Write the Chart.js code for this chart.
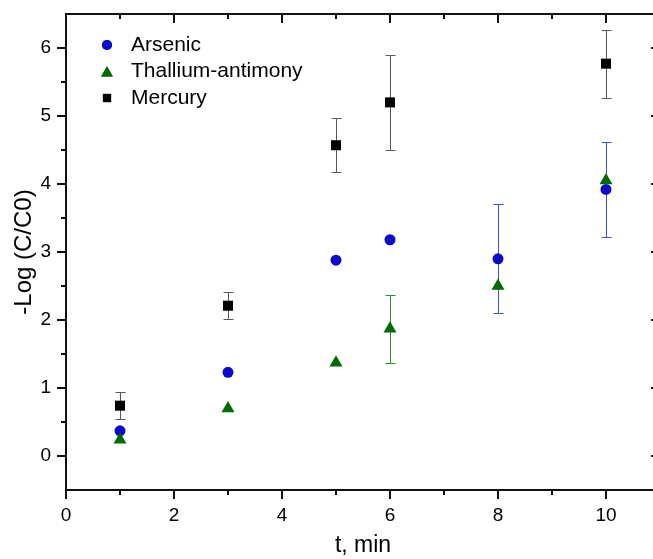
<!DOCTYPE html>
<html>
<head>
<meta charset="utf-8">
<script src="https://cdn.jsdelivr.net/npm/chart.js@4"></script>
<style>
  html, body { margin: 0; padding: 0; background: #fff; overflow: hidden; }
  #wrap { width: 672px; height: 559px; }
</style>
</head>
<body>
<div id="wrap"><canvas id="c" width="672" height="559"></canvas></div>
<script>
// Removal of contaminants over time, -Log(C/C0)
const times = [1, 3, 5, 6, 8, 10];
const arsenic = [0.37, 1.23, 2.88, 3.18, 2.90, 3.92];
const arsenicErr = [0, 0, 0, 0, 0.8, 0.7];
const thallium = [0.24, 0.70, 1.37, 1.87, 2.50, 4.05];
const thalliumErr = [0, 0, 0, 0.5, 0, 0];
const mercuryTimes = [1, 3, 5, 6, 10];
const mercury = [0.74, 2.21, 4.57, 5.20, 5.77];
const mercuryErr = [0.2, 0.2, 0.4, 0.7, 0.5];

const xTicks = [0, 2, 4, 6, 8, 10];
const xMinor = [1, 3, 5, 7, 9];
const yTicks = [0, 1, 2, 3, 4, 5, 6];
const yMinor = [0.5, 1.5, 2.5, 3.5, 4.5, 5.5];

const FONT = '"Liberation Sans", Arial, sans-serif';
const BLUE = '#0b0bcc';
const GREEN = '#006b00';
const BLACK = '#000000';

function pts(xs, ys) { return xs.map((x, i) => ({ x: x, y: ys[i] })); }

const series = [
  { label: 'Arsenic', xs: times, ys: arsenic, err: arsenicErr, color: BLUE, errColor: '#3c4ee6', style: 'circle', radius: 5.5, legendRadius: 5, order: 1 },
  { label: 'Thallium-antimony', xs: times, ys: thallium, err: thalliumErr, color: GREEN, errColor: '#2a8f2a', style: 'triangle', radius: 7.5, legendRadius: 6.8, order: 0 },
  { label: 'Mercury', xs: mercuryTimes, ys: mercury, err: mercuryErr, color: BLACK, errColor: '#5a5a5a', style: 'rect', radius: 7.1, legendRadius: 5.8, order: 2 }
];

// vertical error bars under the markers
const errorBars = {
  id: 'errorBars',
  beforeDatasetsDraw(chart) {
    const ctx = chart.ctx, xs = chart.scales.x, ys = chart.scales.y;
    ctx.save();
    ctx.lineWidth = 1;
    series.forEach(s => {
      ctx.strokeStyle = s.errColor;
      s.xs.forEach((t, i) => {
        const e = s.err[i];
        if (!e) return;
        const px = Math.round(xs.getPixelForValue(t)) + 0.5;
        const top = Math.round(ys.getPixelForValue(s.ys[i] + e)) + 0.5;
        const bot = Math.round(ys.getPixelForValue(s.ys[i] - e)) + 0.5;
        ctx.beginPath();
        ctx.moveTo(px, top); ctx.lineTo(px, bot);
        ctx.moveTo(px - 5, top); ctx.lineTo(px + 5, top);
        ctx.moveTo(px - 5, bot); ctx.lineTo(px + 5, bot);
        ctx.stroke();
      });
    });
    ctx.restore();
  }
};

// closed frame with outward ticks on left/bottom and inward ticks on top/right
const frame = {
  id: 'frame',
  afterDraw(chart) {
    const ctx = chart.ctx, a = chart.chartArea, xs = chart.scales.x, ys = chart.scales.y;
    ctx.save();
    ctx.strokeStyle = '#111';
    ctx.lineWidth = 2;
    ctx.strokeRect(a.left, a.top, a.right - a.left, a.bottom - a.top);
    ctx.beginPath();
    const tick = (vals, len) => {
      vals.forEach(v => {
        const px = xs.getPixelForValue(v);
        ctx.moveTo(px, a.bottom); ctx.lineTo(px, a.bottom + len);
        ctx.moveTo(px, a.top); ctx.lineTo(px, a.top + len);
      });
    };
    const ytick = (vals, len) => {
      vals.forEach(v => {
        const py = ys.getPixelForValue(v);
        ctx.moveTo(a.left, py); ctx.lineTo(a.left - len, py);
        ctx.moveTo(a.right, py); ctx.lineTo(a.right - len, py);
      });
    };
    tick(xTicks, 9); tick(xMinor, 5);
    ytick(yTicks, 9); ytick(yMinor, 5);
    ctx.stroke();
    ctx.restore();
  }
};

// legend inside the plot area, top left
const insideLegend = {
  id: 'insideLegend',
  afterDraw(chart) {
    const ctx = chart.ctx, a = chart.chartArea;
    ctx.save();
    ctx.font = '21px ' + FONT;
    ctx.textBaseline = 'middle';
    series.forEach((s, i) => {
      const y = a.top + 31 + i * 26.5;
      const x = a.left + 41;
      ctx.fillStyle = s.color;
      ctx.strokeStyle = s.color;
      Chart.helpers.drawPoint(ctx, { pointStyle: s.style, radius: s.legendRadius, borderWidth: 0, rotation: 0 }, x, s.style === 'triangle' ? y + 1.5 : y);
      ctx.fill();
      ctx.fillStyle = '#000';
      ctx.fillText(s.label, a.left + 65, y);
    });
    ctx.restore();
  }
};

// keep the plot box at fixed margins: no extra room for edge labels
function noEdgePadding(s) {
  s.paddingTop = 0; s.paddingBottom = 0;
  s.paddingLeft = 0; s.paddingRight = 0;
}

new Chart(document.getElementById('c'), {
  type: 'scatter',
  data: {
    datasets: series.map(s => ({
      label: s.label,
      data: pts(s.xs, s.ys),
      pointStyle: s.style,
      pointRadius: s.radius,
      pointHoverRadius: s.radius,
      backgroundColor: s.color,
      borderColor: s.color,
      borderWidth: 0,
      order: s.order
    }))
  },
  options: {
    responsive: false,
    animation: false,
    events: [],
    layout: { padding: { top: 14, right: 12, left: 0, bottom: 0 } },
    plugins: { legend: { display: false }, tooltip: { enabled: false } },
    scales: {
      x: {
        type: 'linear',
        min: 0, max: 11,
        afterBuildTicks: s => { s.ticks = xTicks.map(v => ({ value: v })); },
        afterFit: s => { s.height = 69; noEdgePadding(s); },
        grid: { display: false, drawTicks: false },
        border: { display: false },
        ticks: { padding: 14, color: '#000', font: { family: FONT, size: 19 } },
        title: { display: true, text: 't, min', color: '#000', font: { family: FONT, size: 23 }, padding: { top: 0, bottom: 0 } }
      },
      y: {
        type: 'linear',
        min: -0.5, max: 6.5,
        afterBuildTicks: s => { s.ticks = yTicks.map(v => ({ value: v })); },
        afterFit: s => { s.width = 66; noEdgePadding(s); },
        grid: { display: false, drawTicks: false },
        border: { display: false },
        ticks: { padding: 15, color: '#000', font: { family: FONT, size: 19 } },
        title: { display: true, text: '-Log (C/C0)', color: '#000', font: { family: FONT, size: 24 }, padding: { top: 10, bottom: 0 } }
      }
    }
  },
  plugins: [errorBars, frame, insideLegend]
});
</script>
</body>
</html>
